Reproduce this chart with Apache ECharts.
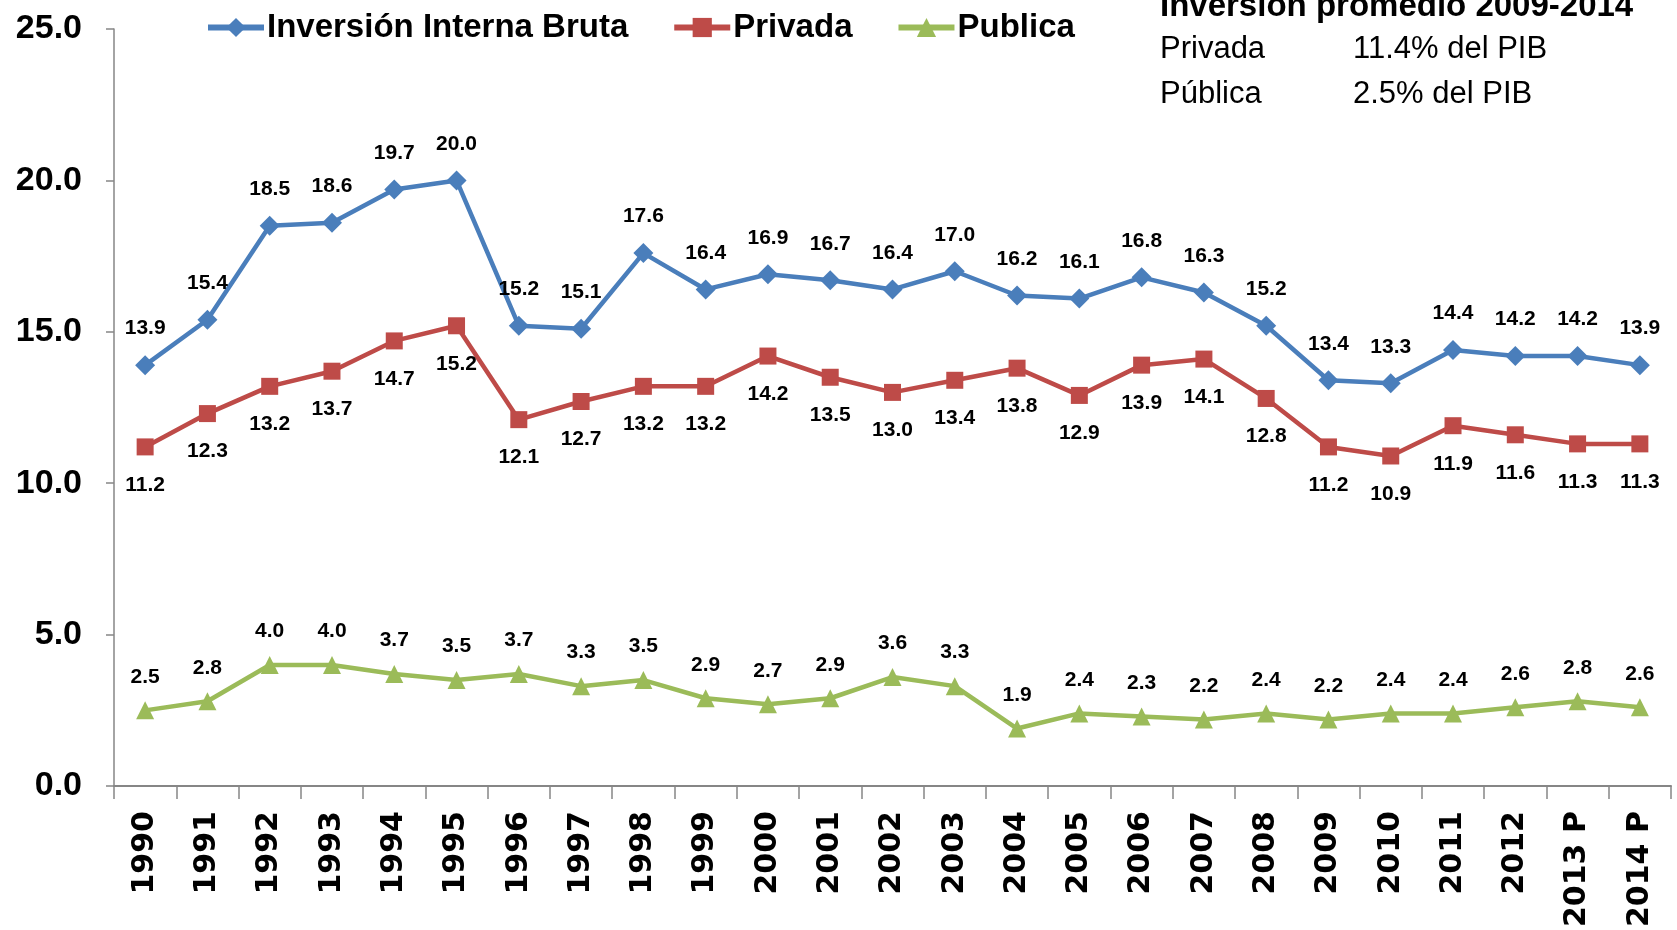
<!DOCTYPE html>
<html>
<head>
<meta charset="utf-8">
<style>
  html, body { margin: 0; padding: 0; background: #fff; }
  #chart { width: 1677px; height: 930px; }
</style>
<script src="https://cdn.jsdelivr.net/npm/echarts@6/dist/echarts.min.js"></script>
</head>
<body>
<div id="chart"></div>
<script>
const years = ['1990', '1991', '1992', '1993', '1994', '1995', '1996', '1997', '1998', '1999',
  '2000', '2001', '2002', '2003', '2004', '2005', '2006', '2007', '2008', '2009',
  '2010', '2011', '2012', '2013 P', '2014 P']
const inversionBruta = [13.9, 15.4, 18.5, 18.6, 19.7, 20.0, 15.2, 15.1, 17.6, 16.4,
  16.9, 16.7, 16.4, 17.0, 16.2, 16.1, 16.8, 16.3, 15.2, 13.4,
  13.3, 14.4, 14.2, 14.2, 13.9]
const privada = [11.2, 12.3, 13.2, 13.7, 14.7, 15.2, 12.1, 12.7, 13.2, 13.2,
  14.2, 13.5, 13.0, 13.4, 13.8, 12.9, 13.9, 14.1, 12.8, 11.2,
  10.9, 11.9, 11.6, 11.3, 11.3]
const publica = [2.5, 2.8, 4.0, 4.0, 3.7, 3.5, 3.7, 3.3, 3.5, 2.9,
  2.7, 2.9, 3.6, 3.3, 1.9, 2.4, 2.3, 2.2, 2.4, 2.2,
  2.4, 2.4, 2.6, 2.8, 2.6]

const axisGray = '#868686'

const chart = echarts.init(document.getElementById('chart'))

const labelStyle = (position, distance) => ({
  show: true,
  position: position,
  distance: distance,
  formatter: p => p.value.toFixed(1),
  color: '#000',
  fontFamily: 'Liberation Sans',
  fontWeight: 'bold',
  fontSize: 21
})

const makeSeries = (name, data, color, symbol, size, label) => ({
  name: name,
  type: 'line',
  data: data,
  symbol: symbol,
  symbolSize: size,
  lineStyle: { color: color, width: 4.5 },
  itemStyle: { color: color },
  label: label,
  animation: false
})

chart.setOption({
  animation: false,
  grid: { left: 114, right: 6, top: 29, bottom: 140, containLabel: false },
  legend: {
    left: 200,
    top: 6,
    itemWidth: 56,
    itemHeight: 24,
    itemGap: 43,
    lineStyle: { width: 6 },
    textStyle: { fontFamily: 'Liberation Sans', fontWeight: 'bold', fontSize: 33, color: '#000', padding: [0, 0, 0, -2] },
    data: [
      { name: 'Inversión Interna Bruta', lineStyle: { width: 6 } },
      { name: 'Privada', lineStyle: { width: 6 } },
      { name: 'Publica', lineStyle: { width: 6 } }
    ]
  },
  xAxis: {
    type: 'category',
    data: years,
    boundaryGap: true,
    axisLine: { lineStyle: { color: axisGray, width: 2 } },
    axisTick: { show: true, interval: 0, length: 13, lineStyle: { color: axisGray, width: 1.5 } },
    axisLabel: {
      interval: 0,
      rotate: 90,
      margin: 25,
      color: '#000',
      fontFamily: 'DejaVu Sans',
      fontWeight: 'bold',
      fontSize: 30
    }
  },
  yAxis: {
    type: 'value',
    min: 0,
    max: 25,
    interval: 5,
    splitLine: { show: false },
    axisLine: { show: true, lineStyle: { color: axisGray, width: 1.5 } },
    axisTick: { show: true, length: 8, lineStyle: { color: axisGray, width: 1.5 } },
    axisLabel: {
      formatter: v => v.toFixed(1),
      margin: 32,
      color: '#000',
      fontFamily: 'Liberation Sans',
      fontWeight: 'bold',
      fontSize: 34
    }
  },
  graphic: [
    {
      type: 'text', left: 1160, top: -10,
      style: { text: 'Inversión promedio 2009-2014', fontFamily: 'Liberation Sans', fontWeight: 'bold', fontSize: 33, fill: '#000' }
    },
    {
      type: 'text', left: 1160, top: 34,
      style: { text: 'Privada', fontFamily: 'Liberation Sans', fontSize: 31, fill: '#000' }
    },
    {
      type: 'text', left: 1353, top: 34,
      style: { text: '11.4% del PIB', fontFamily: 'Liberation Sans', fontSize: 31, fill: '#000' }
    },
    {
      type: 'text', left: 1160, top: 79,
      style: { text: 'Pública', fontFamily: 'Liberation Sans', fontSize: 31, fill: '#000' }
    },
    {
      type: 'text', left: 1353, top: 79,
      style: { text: '2.5% del PIB', fontFamily: 'Liberation Sans', fontSize: 31, fill: '#000' }
    }
  ],
  series: [
    makeSeries('Inversión Interna Bruta', inversionBruta, '#4A7EBB', 'diamond', 20, labelStyle('top', 16)),
    makeSeries('Privada', privada, '#BE4B48', 'rect', 17, labelStyle('bottom', 19)),
    makeSeries('Publica', publica, '#9BBB59', 'triangle', 18, labelStyle('top', 14))
  ]
})

window.addEventListener('resize', () => chart.resize())
</script>
</body>
</html>
